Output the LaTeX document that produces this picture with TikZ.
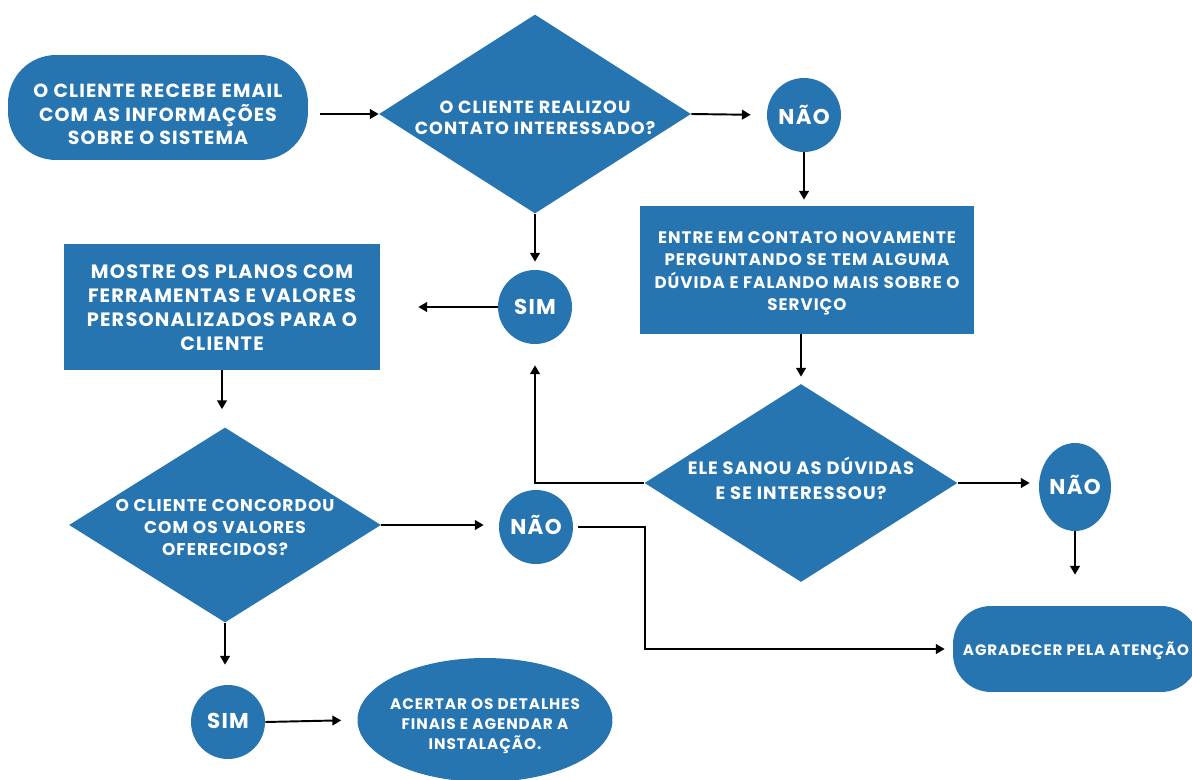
\documentclass[tikz,border=0pt]{standalone}
\usepackage{fontspec}
\setmainfont{Poppins}[LetterSpace=6]
\usetikzlibrary{shapes.geometric,arrows.meta}
\definecolor{fc}{RGB}{38,116,176}
\newcommand{\T}[2][0pt]{\smash{\makebox[0pt]{\raisebox{#1}{\begin{tabular}{@{}c@{}}#2\end{tabular}}}}}
\newcommand{\fs}[2]{\bfseries\fontsize{#1}{#2}\selectfont}
\begin{document}
\begin{tikzpicture}[x=0.02cm,y=-0.02cm,
  shp/.style={fill=fc,text=white,inner sep=0pt,font=\fs{10.5}{13}},
  dia/.style={shp,diamond,minimum width=6.24cm,minimum height=3.98cm},
  circ/.style={shp,circle,minimum size=1.48cm,font=\fs{12.2}{14}},
  ar/.style={line width=1.1pt,-{Triangle[length=5pt,width=5.5pt]}},
]
\useasboundingbox (0,0) rectangle (1192,780);

\node[shp,rectangle,rounded corners=0.96cm,minimum width=6cm,minimum height=2.1cm,font=\fs{10.8}{13}] (start) at (158,107.5)
  {\T[-0.28cm]{O CLIENTE RECEBE EMAIL\\COM AS INFORMAÇÕES\\SOBRE O SISTEMA}};
\node[dia,font=\fs{10}{12}] (d1) at (535,114) {\T[-0.2cm]{O CLIENTE REALIZOU\\CONTATO INTERESSADO?}};
\node[circ] (no1) at (804,115) {\T[-0.17cm]{NÃO}};
\node[shp,rectangle,minimum width=6.68cm,minimum height=2.56cm,font=\fs{9.5}{12.4}] (r1) at (807,270)
  {\T[-0.13cm]{ENTRE EM CONTATO NOVAMENTE\\PERGUNTANDO SE TEM ALGUMA\\DÚVIDA E FALANDO MAIS SOBRE O\\SERVIÇO}};
\node[shp,diamond,minimum width=6.26cm,minimum height=3.96cm,font=\fs{10.2}{14}] (d2) at (801,483)
  {\T[-0.07cm]{ELE SANOU AS DÚVIDAS\\E SE INTERESSOU?}};
\node[circ,ellipse,minimum width=1.44cm,minimum height=1.76cm] (no2) at (1075,487) {\T[-0.13cm]{NÃO}};
\node[shp,rectangle,rounded corners=0.76cm,minimum width=4.92cm,minimum height=1.72cm,font=\fs{8.6}{11}] (end) at (1076,649)
  {\T[-0.13cm]{AGRADECER PELA ATENÇÃO}};
\node[circ] (sim1) at (535,307) {\T[-0.15cm]{SIM}};
\node[shp,rectangle,minimum width=6.32cm,minimum height=2.52cm,font=\fs{11}{13.6}] (r2) at (222,307)
  {\T[-0.15cm]{MOSTRE OS PLANOS COM\\FERRAMENTAS E VALORES\\PERSONALIZADOS PARA O\\CLIENTE}};
\node[shp,diamond,minimum width=6.24cm,minimum height=3.9cm,font=\fs{9.7}{12.4}] (d3) at (225,525)
  {\T[-0.17cm]{O CLIENTE CONCORDOU\\COM OS VALORES\\OFERECIDOS?}};
\node[circ] (no3) at (536,527) {\T[-0.13cm]{NÃO}};
\node[circ] (sim2) at (228,722) {\T[-0.13cm]{SIM}};
\node[shp,ellipse,minimum width=5.1cm,minimum height=2.48cm,font=\fs{8.7}{11.3}] (ell) at (485,720)
  {\T[-0.19cm]{ACERTAR OS DETALHES\\FINAIS E AGENDAR A\\INSTALAÇÃO.}};

\draw[ar,shorten <=0.24cm] (start.east |- d1.west) -- (d1.west);
\draw[ar,shorten >=0.32cm] (d1.east) -- (no1.west);
\draw[ar,shorten >=0.12cm] (no1.south) -- (no1.south |- r1.north);
\draw[ar,shorten >=0.14cm] (d2.north |- r1.south) -- (d2.north);
\draw[ar,shorten >=0.18cm] (d2.east) -- (d2.east -| no2.west);
\draw[ar,shorten >=0.62cm] (no2.south) -- (no2.south |- end.north);
\draw[ar,shorten >=0.42cm] (d2.west) -| (sim1.south);
\draw[ar,shorten >=0.16cm] (d1.south) -- (sim1.north);
\draw[ar,shorten >=0.76cm] (sim1.west) -- (r2.east);
\draw[ar,shorten >=0.36cm] (r2.south) -- (r2.south |- d3.north);
\draw[ar,shorten >=0.3cm] (d3.east) -- (d3.east -| no3.west);
\draw[ar,shorten <=0.1cm,shorten >=0.16cm] (no3.east) -- ++(72,0) |- (end.west);
\draw[ar,shorten >=0.4cm] (d3.south) -- (d3.south |- sim2.north);
\draw[ar,shorten >=0.32cm] (sim2.east) -- (ell.west);
\end{tikzpicture}
\end{document}
